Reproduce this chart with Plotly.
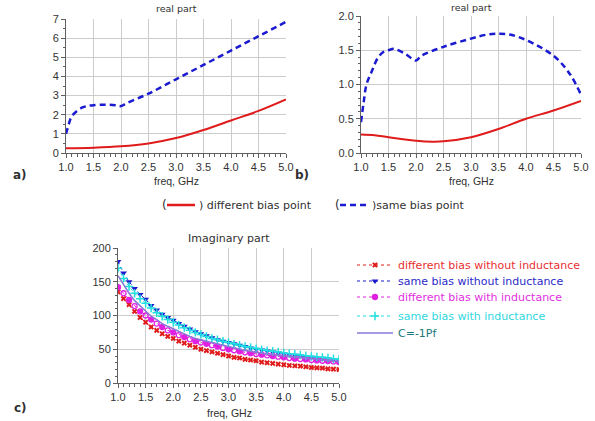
import plotly.graph_objects as go

# ---------------- data ----------------
freq_a_same = [1.0, 1.05, 1.1, 1.2, 1.3, 1.4, 1.5, 1.7, 1.9, 2.0, 2.1, 2.5, 3.0, 3.5, 4.0, 4.5, 5.0]
real_a_same = [1.0, 1.5, 1.9, 2.2, 2.38, 2.46, 2.5, 2.52, 2.5, 2.45, 2.6, 3.1, 3.85, 4.6, 5.35, 6.1, 6.85]
freq_a_diff = [1.0, 1.5, 2.0, 2.5, 3.0, 3.5, 4.0, 4.5, 5.0]
real_a_diff = [0.25, 0.28, 0.35, 0.5, 0.78, 1.2, 1.7, 2.2, 2.8]

freq_b_same = [1.0, 1.05, 1.1, 1.2, 1.3, 1.4, 1.5, 1.6, 1.8, 2.0, 2.1, 2.5, 3.0, 3.3, 3.5, 3.7, 4.0, 4.5, 4.8, 5.0]
real_b_same = [0.45, 0.75, 1.0, 1.2, 1.38, 1.47, 1.5, 1.52, 1.45, 1.35, 1.42, 1.55, 1.67, 1.73, 1.74, 1.73, 1.65, 1.42, 1.15, 0.85]
freq_b_diff = [1.0, 1.25, 1.5, 2.0, 2.3, 2.5, 3.0, 3.5, 4.0, 4.5, 5.0]
real_b_diff = [0.27, 0.26, 0.23, 0.18, 0.165, 0.17, 0.23, 0.35, 0.5, 0.62, 0.76]

freq_c = [1.0, 1.1, 1.2, 1.3, 1.4, 1.5, 1.6, 1.7, 1.8, 1.9, 2.0, 2.1, 2.2, 2.3, 2.4, 2.5, 2.6, 2.7, 2.8, 2.9,
          3.0, 3.1, 3.2, 3.3, 3.4, 3.5, 3.6, 3.7, 3.8, 3.9, 4.0, 4.1, 4.2, 4.3, 4.4, 4.5, 4.6, 4.7, 4.8, 4.9, 5.0]
imag_diff_noL = [135, 125, 116, 106, 97, 90, 83, 78, 73, 69, 66, 62, 59, 56, 53, 50, 48, 46, 44, 42,
                 40, 38, 37, 35, 34, 33, 31, 30, 29, 28, 27, 26, 25.5, 25, 24, 23, 22.5, 22, 21, 20.5, 20]
imag_same_noL = [180, 163, 150, 140, 131, 124, 115, 108, 102, 97, 93, 88, 84, 80, 76, 73, 70, 67, 64, 62,
                 60, 58, 56, 54, 52, 50, 49, 47.5, 46, 44.5, 43, 42, 41, 40, 39, 38, 37, 36.5, 35.5, 35, 34]
imag_diff_L = [142, 133, 123, 114, 106, 100, 94, 88, 83, 78, 75, 71, 68, 65, 62, 60, 58, 56, 54, 52,
               50, 48.5, 47, 45.5, 44, 43, 42, 41, 40, 39, 38, 37, 36, 35.5, 35, 34, 33.5, 33, 32.5, 32, 31]
imag_same_L = [170, 155, 143, 133, 125, 118, 111, 104, 99, 94, 90, 86, 82, 78, 75, 72, 69, 66, 64, 62,
               60, 58, 56, 54, 52.5, 51, 49.5, 48, 47, 46, 44.5, 43.5, 42.5, 41.5, 40.5, 39.5, 38.5, 38, 37, 36, 35]
imag_cap = [159, 145, 133, 122, 114, 106, 99, 94, 88, 84, 80, 76, 72, 69, 66, 64, 61, 59, 57, 55,
            53, 51, 50, 48, 47, 45, 44, 43, 42, 41, 40, 39, 38, 37, 36, 35, 34.6, 33.9, 33.2, 32.5, 32]

x_ticks = [1.0, 1.5, 2.0, 2.5, 3.0, 3.5, 4.0, 4.5, 5.0]

RED = "#e01b1b"
BLUE = "#1a1ad0"
MAG = "#e020e0"
CYAN = "#20e0e0"
PURP = "#8878d8"
FONT = "DejaVu Sans"
TFONT = "Liberation Sans"
DASH = "6px,4px"

fig = go.Figure()

# panel a
fig.add_trace(go.Scatter(x=freq_a_same, y=real_a_same, mode="lines", line=dict(color=BLUE, width=2.5, dash=DASH, shape="spline"),
                         xaxis="x", yaxis="y", showlegend=False))
fig.add_trace(go.Scatter(x=freq_a_diff, y=real_a_diff, mode="lines", line=dict(color=RED, width=2, shape="spline"),
                         xaxis="x", yaxis="y", showlegend=False))
# panel b
fig.add_trace(go.Scatter(x=freq_b_same, y=real_b_same, mode="lines", line=dict(color=BLUE, width=2.5, dash=DASH, shape="spline"),
                         xaxis="x2", yaxis="y2", showlegend=False))
fig.add_trace(go.Scatter(x=freq_b_diff, y=real_b_diff, mode="lines", line=dict(color=RED, width=2, shape="spline"),
                         xaxis="x2", yaxis="y2", showlegend=False))

# panel c
mag_symbols = ["circle" if i % 2 == 0 else "circle-open" for i in range(len(freq_c))]
fig.add_trace(go.Scatter(x=freq_c, y=imag_diff_noL, mode="lines+markers",
                         line=dict(color=RED, width=1, dash="dot"),
                         marker=dict(symbol="x", size=5, color=RED),
                         name='<span style="color:#e83030">different bias without inductance</span>',
                         xaxis="x3", yaxis="y3", legend="legend"))
fig.add_trace(go.Scatter(x=freq_c, y=imag_same_noL, mode="lines+markers",
                         line=dict(color=BLUE, width=1, dash="dot"),
                         marker=dict(symbol="triangle-down", size=6, color=BLUE),
                         name='<span style="color:#2a2ac8">same bias without inductance</span>',
                         xaxis="x3", yaxis="y3", legend="legend2"))
fig.add_trace(go.Scatter(x=freq_c, y=imag_diff_L, mode="lines+markers",
                         line=dict(color=MAG, width=1, dash="dot"),
                         marker=dict(symbol=mag_symbols, size=5, color=MAG, line=dict(color=MAG, width=1.3)),
                         name='<span style="color:#e030e0">different bias with inductance</span>',
                         xaxis="x3", yaxis="y3", legend="legend3"))
fig.add_trace(go.Scatter(x=freq_c, y=imag_same_L, mode="lines+markers",
                         line=dict(color=CYAN, width=1, dash="dot"),
                         marker=dict(symbol="cross-thin", size=6, color=CYAN, line=dict(color=CYAN, width=1.5)),
                         name='<span style="color:#30d8e0">same bias with inductance</span>',
                         xaxis="x3", yaxis="y3", legend="legend4"))
fig.add_trace(go.Scatter(x=freq_c, y=imag_cap, mode="lines",
                         line=dict(color=PURP, width=1.5),
                         name='<span style="color:#207878">C=-1Pf</span>',
                         xaxis="x3", yaxis="y3", legend="legend5"))

W, H = 595, 421
def px_x(p): return p / W
def px_y(p): return 1 - p / H

axis_common = dict(showgrid=True, gridcolor="#cccccc", gridwidth=1, showline=True, linecolor="#606060", linewidth=1,
                   ticks="outside", ticklen=4, tickcolor="#606060", zeroline=False, automargin=False,
                   tickfont=dict(family=TFONT, size=11, color="#333333"))

xa = dict(axis_common, range=[1.0, 5.0], tickvals=x_ticks, tickformat=".1f",
          minor=dict(dtick=0.1, tick0=1.0, ticks="outside", ticklen=3, tickcolor="#606060", showgrid=False))

def leg(y):
    return dict(x=px_x(352), y=px_y(y), xanchor="left", yanchor="middle", bgcolor="rgba(0,0,0,0)",
                font=dict(family=FONT, size=11), itemwidth=36, tracegroupgap=0)

fig.update_layout(
    template="none",
    width=W, height=H, margin=dict(l=0, r=0, t=0, b=0, autoexpand=False),
    paper_bgcolor="white", plot_bgcolor="white",
    font=dict(family=FONT, size=10, color="#303030"),
    xaxis=dict(xa, domain=[px_x(66), px_x(286)], anchor="y"),
    yaxis=dict(axis_common, range=[0, 7], dtick=1, domain=[px_y(153), px_y(19)], anchor="x",
               minor=dict(dtick=0.5, ticks="outside", ticklen=2, tickcolor="#606060", showgrid=False)),
    xaxis2=dict(xa, domain=[px_x(361), px_x(581)], anchor="y2"),
    yaxis2=dict(axis_common, range=[0, 2], dtick=0.5, tickformat=".1f", domain=[px_y(153), px_y(16)], anchor="x2",
                minor=dict(dtick=0.1, ticks="outside", ticklen=2, tickcolor="#606060", showgrid=False)),
    xaxis3=dict(xa, domain=[px_x(118), px_x(339)], anchor="y3"),
    yaxis3=dict(axis_common, range=[0, 200], dtick=50, domain=[px_y(383), px_y(248)], anchor="x3",
                minor=dict(dtick=10, ticks="outside", ticklen=2, tickcolor="#606060", showgrid=False)),
    showlegend=True,
    legend=leg(265), legend2=leg(281), legend3=leg(297), legend4=leg(316), legend5=leg(333),
)

ann = []
def text(x, y, s, size=10, bold=False, color="#303030", xanchor="center", family=FONT):
    ann.append(dict(x=px_x(x), y=px_y(y), xref="paper", yref="paper", text=("<b>%s</b>" % s) if bold else s,
                    showarrow=False, xanchor=xanchor, yanchor="middle",
                    font=dict(family=family, size=size, color=color)))

text(176, 9, "real part", size=9.5)
text(471, 8, "real part", size=9.5)
text(229, 238, "Imaginary part", size=11)
text(176, 181, "freq, GHz", family=TFONT, size=10.5)
text(471, 181, "freq, GHz", family=TFONT, size=10.5)
text(229, 413, "freq, GHz", family=TFONT, size=10.5)
text(20, 175, "a)", size=12, bold=True)
text(302, 175, "b)", size=12, bold=True)
text(20, 408, "c)", size=12, bold=True)

# legend for panels a/b
text(160, 205, "(", size=12, xanchor="left")
text(197, 205, ") different bias point", size=11, xanchor="left")
text(333, 205, "(", size=12, xanchor="left")
text(370, 205, ")same bias point", size=11, xanchor="left")

shapes = [
    dict(type="line", xref="paper", yref="paper", x0=px_x(167), x1=px_x(195), y0=px_y(205), y1=px_y(205),
         line=dict(color=RED, width=2.5)),
    dict(type="line", xref="paper", yref="paper", x0=px_x(340), x1=px_x(369), y0=px_y(205), y1=px_y(205),
         line=dict(color=BLUE, width=2.5, dash=DASH)),
]

fig.update_layout(annotations=ann, shapes=shapes)
fig.write_html("out.html", config={"displayModeBar": False, "staticPlot": True},
               post_script="document.body.style.margin='0';document.body.style.padding='0';document.body.style.overflow='hidden';")
